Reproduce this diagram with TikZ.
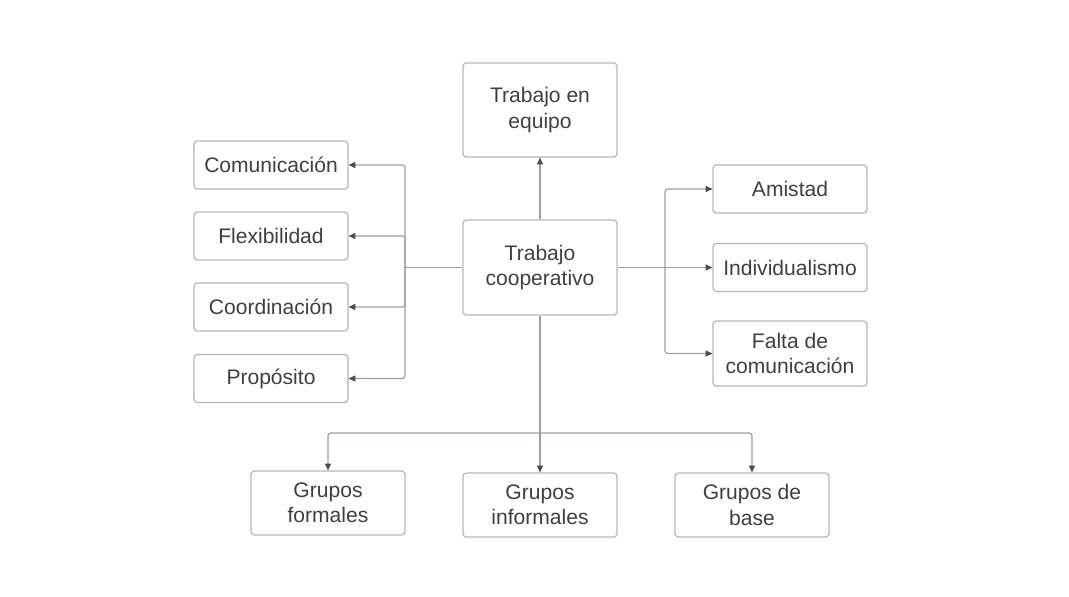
\documentclass[tikz,border=0pt]{standalone}
\usepackage{fontspec}
\setmainfont{Liberation Sans}
\usetikzlibrary{arrows.meta}
\definecolor{boxline}{HTML}{B4B6BA}
\definecolor{conn}{HTML}{9A9EA4}
\definecolor{txt}{HTML}{3C4043}
\definecolor{tip}{HTML}{4A4E54}
\begin{document}
\begin{tikzpicture}[x=0.75pt,y=-0.75pt,
  box/.style={draw=boxline,line width=0.9pt,rounded corners=2.5pt,fill=white,
    minimum width=154*0.75pt,inner sep=2pt,align=center,text=txt,
    font=\fontsize{15.8}{19}\selectfont},
  conline/.style={draw=conn,line width=0.9pt},
  arr/.style={conline,-{Triangle[length=5pt,width=4.5pt,fill=tip,color=tip]}}]
\useasboundingbox (0,0) rectangle (1069,596);
% nodes
\node[box,minimum height=94*0.75pt] (eq) at (540,110) {Trabajo en\\equipo};
\node[box,minimum height=95*0.75pt] (co) at (540,267.5) {Trabajo\\cooperativo};
\node[box,minimum height=48*0.75pt] (com) at (271,165) {Comunicación};
\node[box,minimum height=48*0.75pt] (fle) at (271,236) {Flexibilidad};
\node[box,minimum height=48*0.75pt] (coo) at (271,307) {Coordinación};
\node[box,minimum height=48*0.75pt] (pro) at (271,378.5) {Propósito};
\node[box,minimum height=48*0.75pt] (ami) at (790,189) {Amistad};
\node[box,minimum height=48*0.75pt] (ind) at (790,267.5) {Individualismo};
\node[box,minimum height=65*0.75pt] (fal) at (790,353.5) {Falta de\\comunicación};
\node[box,minimum height=64*0.75pt] (gf) at (328,503) {Grupos\\formales};
\node[box,minimum height=64*0.75pt] (gi) at (540,505) {Grupos\\informales};
\node[box,minimum height=64*0.75pt] (gb) at (752,505) {Grupos de\\base};
% bus coordinates
\coordinate (lb) at (405,267.5);
\coordinate (rb) at (665,267.5);
\coordinate (bb) at (540,433);
% top
\draw[arr] (co.north) -- (eq.south);
% left
\draw[conline] (co.west) -- (lb);
\draw[arr,rounded corners=2pt] (lb) |- (com.east);
\draw[arr,rounded corners=2pt] (lb) |- (fle.east);
\draw[arr,rounded corners=2pt] (lb) |- (coo.east);
\draw[arr,rounded corners=2pt] (lb) |- (pro.east);
% right
\draw[conline] (co.east) -- (rb);
\draw[arr,rounded corners=2pt] (rb) |- (ami.west);
\draw[arr] (rb) -- (ind.west);
\draw[arr,rounded corners=2pt] (rb) |- (fal.west);
% bottom
\draw[conline] (co.south) -- (bb);
\draw[arr,rounded corners=2pt] (bb) -| (gf.north);
\draw[arr] (bb) -- (gi.north);
\draw[arr,rounded corners=2pt] (bb) -| (gb.north);
\end{tikzpicture}
\end{document}
